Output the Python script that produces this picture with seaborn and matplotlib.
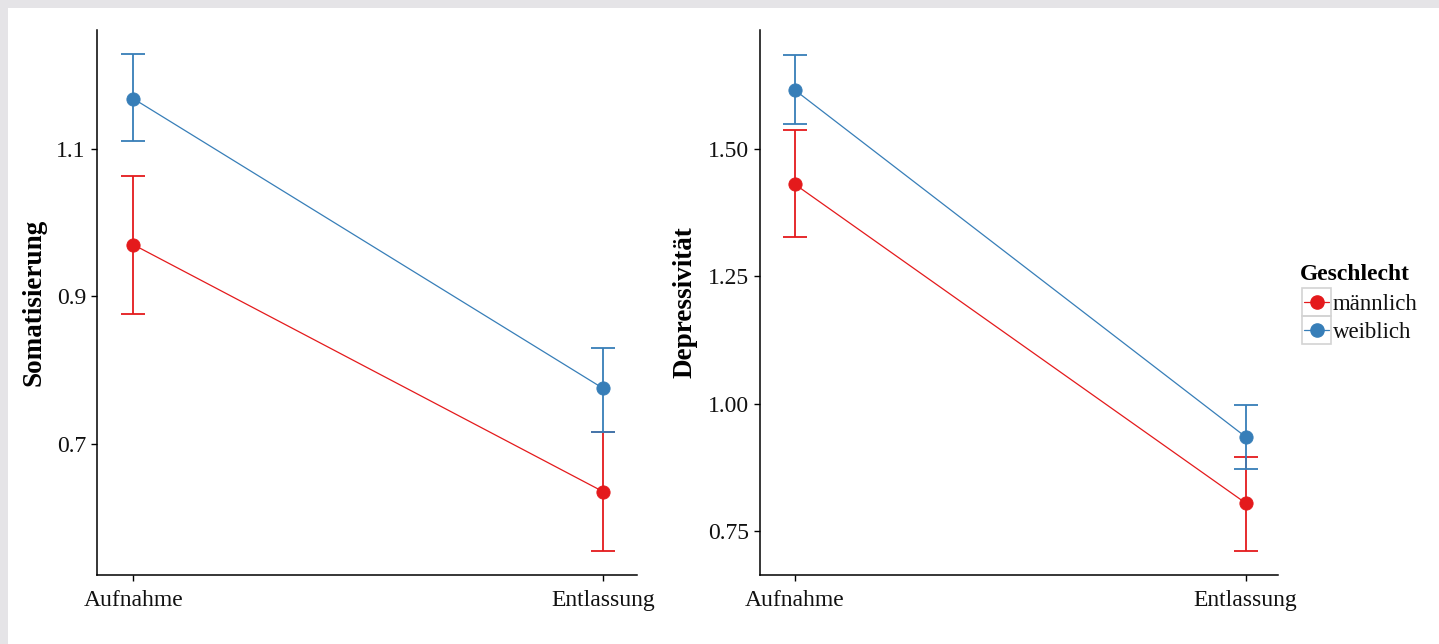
import numpy as np
import pandas as pd
import matplotlib
matplotlib.use("Agg")
import matplotlib.pyplot as plt
from matplotlib.patches import Rectangle
from matplotlib.lines import Line2D
import seaborn as sns

# ---- data ----
zeitpunkt = ["Aufnahme", "Entlassung"]
geschlecht = ["männlich", "weiblich"]

som_m_mean = [0.970, 0.635]
som_m_lo = [0.876, 0.555]
som_m_hi = [1.063, 0.716]
som_w_mean = [1.168, 0.775]
som_w_lo = [1.110, 0.716]
som_w_hi = [1.228, 0.830]

dep_m_mean = [1.431, 0.805]
dep_m_lo = [1.327, 0.711]
dep_m_hi = [1.537, 0.895]
dep_w_mean = [1.616, 0.935]
dep_w_lo = [1.549, 0.871]
dep_w_hi = [1.685, 0.998]

som_ticks = [0.7, 0.9, 1.1]
som_ticklabels = ["0.7", "0.9", "1.1"]
dep_ticks = [0.75, 1.00, 1.25, 1.50]
dep_ticklabels = ["0.75", "1.00", "1.25", "1.50"]

colors = {"männlich": "#E41A1C", "weiblich": "#377EB8"}

sns.set_theme(style="white")
plt.rcParams["font.family"] = ["Liberation Serif", "DejaVu Serif"]

fig = plt.figure(figsize=(14.39, 6.44), dpi=100)
W, H = 1439, 644

def px_axes(x0, y0, x1, y1):
    return fig.add_axes([x0 / W, 1 - y1 / H, (x1 - x0) / W, (y1 - y0) / H])

ax1 = px_axes(97, 30, 637, 575)
ax2 = px_axes(760, 30, 1278, 575)

TICK_FS = 17
TITLE_FS = 19.5

def panel(ax, m_mean, m_lo, m_hi, w_mean, w_lo, w_hi, ylim, ticks, ticklabels, ylabel, labelx):
    df = pd.DataFrame({
        "Zeitpunkt": zeitpunkt * 2,
        "Geschlecht": [geschlecht[0]] * 2 + [geschlecht[1]] * 2,
        "Wert": list(m_mean) + list(w_mean),
        "lo": list(m_lo) + list(w_lo),
        "hi": list(m_hi) + list(w_hi),
    })
    for g in geschlecht:
        sub = df[df["Geschlecht"] == g]
        xs = np.arange(len(sub))
        y = sub["Wert"].values
        ax.errorbar(xs, y, yerr=[y - sub["lo"].values, sub["hi"].values - y],
                    fmt="none", ecolor=colors[g], elinewidth=1.3, capsize=8.3,
                    capthick=1.3, zorder=2)
    sns.pointplot(data=df, x="Zeitpunkt", y="Wert", hue="Geschlecht",
                  palette=colors, errorbar=None, ax=ax, legend=False,
                  markers="o", markersize=9.5, linewidth=0.9, zorder=3)
    ax.set_xlim(-0.077, 1.072)
    ax.set_ylim(*ylim)
    ax.set_yticks(ticks)
    ax.set_yticklabels(ticklabels)
    ax.set_xlabel("")
    ax.set_ylabel(ylabel, fontsize=TITLE_FS, fontweight="bold", color="black")
    ax.yaxis.set_label_coords(labelx, 0.5)
    for s in ["top", "right"]:
        ax.spines[s].set_visible(False)
    for s in ["left", "bottom"]:
        ax.spines[s].set_color("black")
        ax.spines[s].set_linewidth(1.1)
    ax.tick_params(axis="both", which="both", direction="out", length=4.5,
                   width=1.0, color="black", labelsize=TICK_FS, labelcolor="#111111",
                   left=True, bottom=True)
    ax.tick_params(axis="y", pad=3.5)
    ax.tick_params(axis="x", pad=6.5)
    ax.set_facecolor("white")

panel(ax1, som_m_mean, som_m_lo, som_m_hi, som_w_mean, som_w_lo, som_w_hi,
      (0.522, 1.261), som_ticks, som_ticklabels, "Somatisierung", -0.0926)
panel(ax2, dep_m_mean, dep_m_lo, dep_m_hi, dep_w_mean, dep_w_lo, dep_w_hi,
      (0.6636, 1.7337), dep_ticks, dep_ticklabels, "Depressivität", -0.1216)

# ---- legend (ggplot style keys) ----
fig.text(1300 / W, 1 - 274 / H, "Geschlecht", fontsize=17, fontweight="bold",
         ha="left", va="center", color="black")
key_rows = [(288, 316), (316, 344)]
for g, (y0, y1) in zip(geschlecht, key_rows):
    fig.patches.append(Rectangle((1302 / W, 1 - y1 / H), 29 / W, (y1 - y0) / H,
                                 transform=fig.transFigure, fill=False,
                                 edgecolor="#D3D3D3", linewidth=1.2, zorder=1))
    yc = 1 - (y0 + y1) / 2 / H
    fig.lines.append(Line2D([1304 / W, 1329 / W], [yc, yc], transform=fig.transFigure,
                            color=colors[g], linewidth=0.9, zorder=2))
    fig.lines.append(Line2D([1316.5 / W], [yc], transform=fig.transFigure,
                            color=colors[g], marker="o", markersize=9.5,
                            linestyle="none", zorder=3))
    fig.text(1333 / W, yc - 2 / H, g, fontsize=16.5, ha="left", va="center", color="#111111")

# ---- gray frame strips ----
frame_col = "#E5E4E7"
fig.patches.append(Rectangle((0, 1 - 8 / H), 1, 8 / H, transform=fig.transFigure,
                             facecolor=frame_col, edgecolor="none", zorder=-1))
fig.patches.append(Rectangle((0, 0), 8 / W, 1, transform=fig.transFigure,
                             facecolor=frame_col, edgecolor="none", zorder=-1))

fig.savefig("out.png", dpi=100, facecolor="white")
